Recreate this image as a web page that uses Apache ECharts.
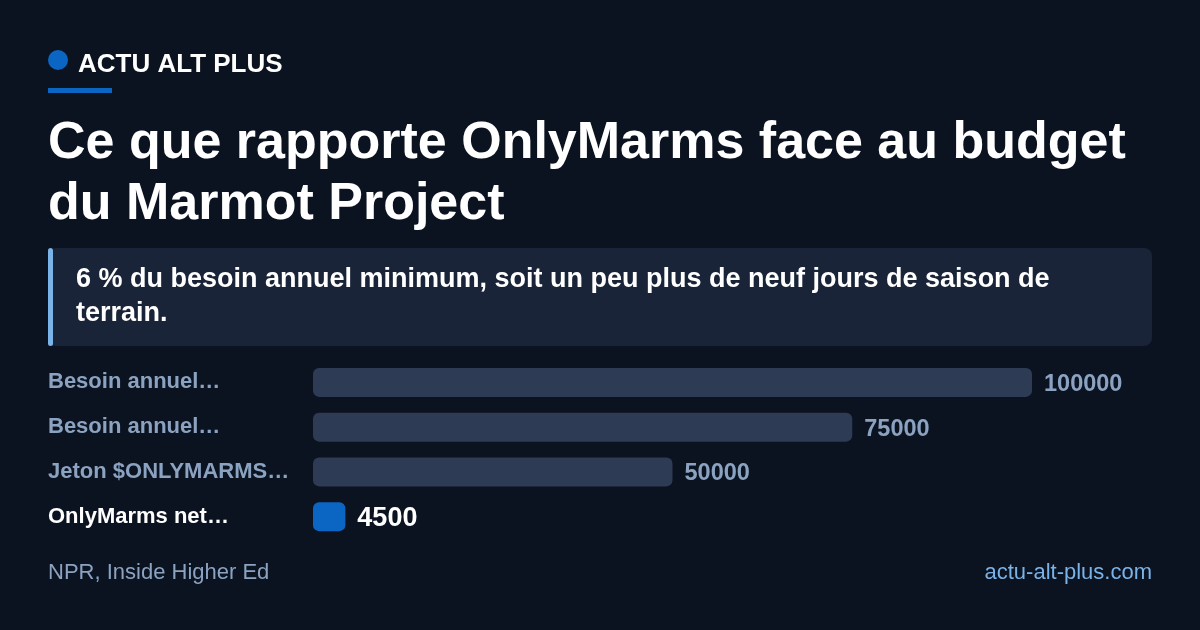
<!DOCTYPE html>
<html lang="fr">
<head>
<meta charset="UTF-8" />
<script src="https://cdn.jsdelivr.net/npm/echarts@6/dist/echarts.min.js"></script>
<style>
  html, body { margin: 0; padding: 0; background: #0b1220; }
  #main { width: 1200px; height: 630px; }
</style>
</head>
<body>
<div id="main"></div>
<script>
  // données du graphique
  var categories = ['Besoin annuel…', 'Besoin annuel…', 'Jeton $ONLYMARMS…', 'OnlyMarms net…'];
  var values = [100000, 75000, 50000, 4500];
  var highlightIndex = 3;

  var FONT = '"Liberation Sans", Arial, sans-serif';
  var muted = '#8ba3c0';

  var chart = echarts.init(document.getElementById('main'));

  var barData = values.map(function (v, i) {
    var hi = i === highlightIndex;
    return {
      value: v,
      itemStyle: { color: hi ? '#0b66c3' : '#2d3b55' },
      label: hi ? { color: '#ffffff', fontSize: 27 } : {}
    };
  });

  chart.setOption({
    backgroundColor: '#0b1220',
    animation: false,
    grid: { left: 313, width: 719, top: 360, height: 179 },
    xAxis: {
      type: 'value', min: 0, max: 100000, show: false
    },
    yAxis: {
      type: 'category',
      data: categories,
      inverse: true,
      axisLine: { show: false },
      axisTick: { show: false },
      axisLabel: {
        align: 'left',
        margin: 265,
        padding: [4, 0, 0, 0],
        fontFamily: FONT,
        fontWeight: 'bold',
        fontSize: 22,
        color: function (v, i) { return i === highlightIndex ? '#ffffff' : muted; }
      }
    },
    series: [{
      type: 'bar',
      data: barData,
      barWidth: 29,
      itemStyle: { borderRadius: 6 },
      label: {
        show: true,
        position: 'right',
        distance: 12,
        offset: [0, 2],
        fontFamily: FONT,
        fontWeight: 'bold',
        fontSize: 23.5,
        color: muted
      }
    }],
    graphic: [
      { type: 'circle', shape: { cx: 58, cy: 60, r: 10 }, style: { fill: '#0b66c3' } },
      { type: 'text', left: 78, top: 52, style: { text: 'ACTU ALT PLUS', fill: '#ffffff', font: 'bold 26px ' + FONT } },
      { type: 'rect', shape: { x: 48, y: 88, width: 64, height: 5 }, style: { fill: '#0b66c3' } },
      { type: 'text', left: 48, top: 113, style: {
          text: 'Ce que rapporte OnlyMarms face au budget\ndu Marmot Project',
          fill: '#ffffff', font: 'bold 52px ' + FONT, lineHeight: 61 } },
      { type: 'rect', shape: { x: 48, y: 248, width: 1104, height: 98, r: 8 }, style: { fill: '#1a2438' } },
      { type: 'rect', shape: { x: 48, y: 248, width: 5, height: 98, r: 2.5 }, style: { fill: '#7ab3e8' } },
      { type: 'text', left: 76, top: 263, style: {
          text: '6 % du besoin annuel minimum, soit un peu plus de neuf jours de saison de\nterrain.',
          fill: '#ffffff', font: 'bold 27px ' + FONT, lineHeight: 34 } },
      { type: 'text', left: 48, top: 562, style: { text: 'NPR, Inside Higher Ed', fill: muted, font: '22px ' + FONT } },
      { type: 'text', right: 48, top: 562, style: { text: 'actu-alt-plus.com', fill: '#7ab3e8', font: '22px ' + FONT } }
    ]
  });
</script>
</body>
</html>
